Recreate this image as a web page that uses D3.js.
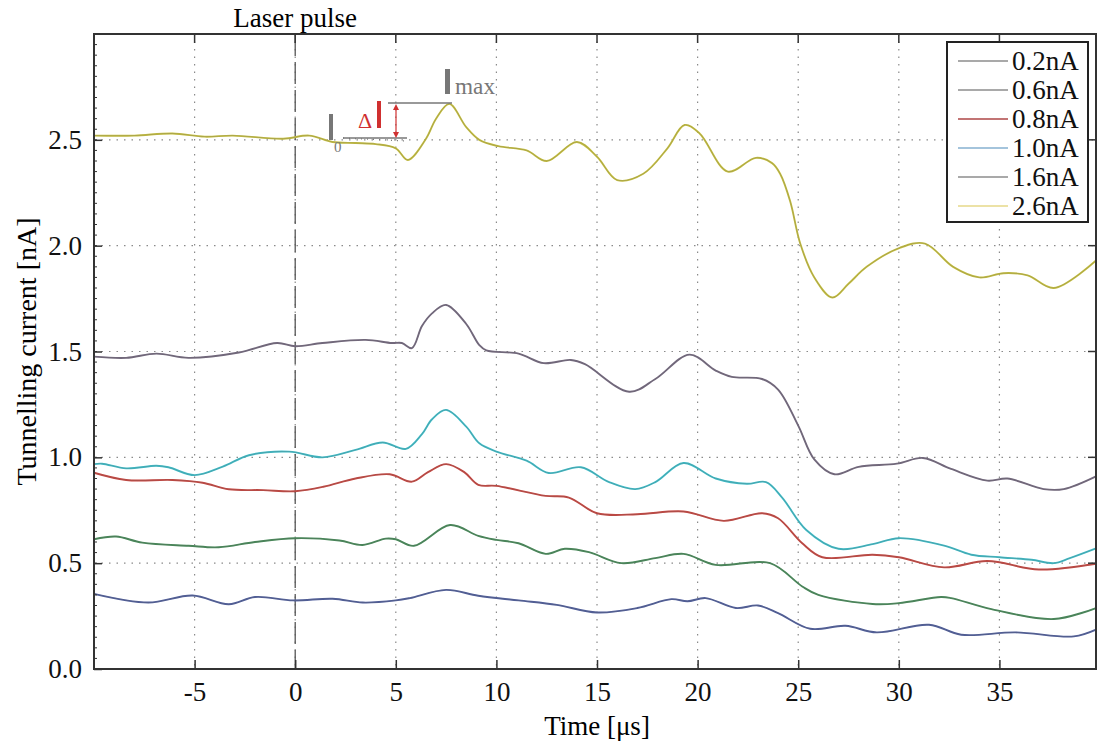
<!DOCTYPE html>
<html>
<head>
<meta charset="utf-8">
<script src="https://cdn.jsdelivr.net/npm/d3@7"></script>
<style>
  body { margin: 0; background: #fff; }
  text { font-family: "Liberation Serif", "Times New Roman", serif; }
</style>
</head>
<body>
<script>
// series: time [us] and current [nA]
var t02 = [-10,-7.3,-5.1,-3.3,-2,-0.1,1.86,3.35,5,5.7,7.5,9.1,11.1,13,15,17,18.7,19.5,20.4,21.9,23,24,25.6,27.35,28.9,31.5,33.1,35.8,38.7,39.8]
var v02 = [0.355,0.314,0.347,0.306,0.34,0.324,0.332,0.314,0.324,0.335,0.374,0.346,0.324,0.303,0.267,0.288,0.33,0.32,0.335,0.288,0.30,0.264,0.19,0.204,0.173,0.209,0.162,0.173,0.154,0.186]

var t06 = [-10,-8.9,-7.6,-5.3,-3.8,-2,0,2.2,3.35,4.5,5,5.9,7.7,9.1,10,11.1,12.45,13.4,14.6,16.2,17.9,19.3,20.9,23.6,25.2,26,28.7,30,32.1,32.6,34.6,37.7,39.8]
var v06 = [0.613,0.626,0.597,0.582,0.575,0.60,0.618,0.607,0.586,0.616,0.613,0.582,0.68,0.629,0.61,0.594,0.544,0.568,0.552,0.50,0.524,0.544,0.492,0.50,0.39,0.35,0.307,0.311,0.34,0.335,0.283,0.236,0.288]

var t08 = [-10,-8.4,-6.1,-4.6,-3.3,-1.6,0,1.4,3,4.7,5.8,6.6,7.5,8.4,9.1,10,12.45,13.6,15,17,19.3,21.3,23.2,24,25.2,26.2,28.7,30,32.25,34.4,36.96,39.8]
var v08 = [0.927,0.893,0.893,0.88,0.849,0.845,0.84,0.861,0.90,0.92,0.885,0.93,0.968,0.93,0.87,0.865,0.818,0.81,0.736,0.731,0.744,0.70,0.736,0.712,0.594,0.528,0.54,0.528,0.48,0.51,0.47,0.497]

var t10 = [-10,-9.6,-8.4,-6.9,-6.3,-5,-3.6,-2.3,-0.3,1.36,3,4.35,5.5,6.3,6.8,7.5,8.5,9.15,10,11.5,12.6,14.2,15.6,16.9,17.9,19.3,20.9,22.45,23.4,24.2,25.4,27,28.7,30,32.25,33.6,35,36.6,37.7,38.5,39.8]
var v10 = [0.968,0.97,0.948,0.96,0.953,0.916,0.956,1.01,1.027,1.0,1.035,1.07,1.04,1.11,1.18,1.224,1.145,1.066,1.027,0.984,0.926,0.953,0.883,0.85,0.883,0.973,0.90,0.875,0.883,0.81,0.657,0.568,0.59,0.618,0.583,0.54,0.528,0.516,0.50,0.524,0.57]

var t16 = [-10,-8.4,-6.9,-5.3,-2.8,-0.9,0,1.35,3.5,4.8,5.3,5.8,6.3,6.8,7.5,8.5,9.15,9.5,11.1,12.35,13.7,14.4,16.6,17.9,19.6,20.9,21.7,23.2,24,25,25.8,26.8,28,29.9,31.2,32.6,34.4,35.4,37.2,38.2,39.8]
var v16 = [1.476,1.47,1.49,1.47,1.495,1.54,1.525,1.54,1.555,1.54,1.54,1.516,1.62,1.68,1.72,1.63,1.53,1.505,1.49,1.445,1.46,1.44,1.31,1.37,1.485,1.41,1.38,1.37,1.32,1.15,0.99,0.92,0.955,0.97,0.997,0.945,0.89,0.90,0.85,0.85,0.91]

var t26 = [-10,-8,-6.1,-4.5,-3.1,-0.6,0.7,1.85,3,4,5,5.6,6.5,7,7.66,8.5,9.15,10.1,11.5,12.5,14,15,16,17.3,18.5,19.35,20.1,21.5,22.9,23.7,24.1,24.6,25.1,25.8,26.7,27.5,28.4,30.05,31.3,32.7,34,35.2,36.4,37.7,39.8]
var v26 = [2.52,2.52,2.53,2.515,2.52,2.505,2.52,2.49,2.485,2.48,2.46,2.405,2.505,2.60,2.67,2.56,2.50,2.47,2.45,2.40,2.49,2.42,2.31,2.34,2.46,2.57,2.53,2.35,2.415,2.39,2.34,2.21,2.01,1.85,1.755,1.82,1.90,1.99,2.01,1.90,1.85,1.87,1.86,1.80,1.93]

var seriesNames = ["0.2nA", "0.6nA", "0.8nA", "1.0nA", "1.6nA", "2.6nA"]
var xTicks = [-5, 0, 5, 10, 15, 20, 25, 30, 35]
var yTicks = [0.0, 0.5, 1.0, 1.5, 2.0, 2.5]

var series = [
  {name: seriesNames[0], t: t02, v: v02, color: "#4e5d9c", legend: "#a9a9a9"},
  {name: seriesNames[1], t: t06, v: v06, color: "#468a58", legend: "#a9a9a9"},
  {name: seriesNames[2], t: t08, v: v08, color: "#c8453f", legend: "#c27474"},
  {name: seriesNames[3], t: t10, v: v10, color: "#3dbdc9", legend: "#a4c4dc"},
  {name: seriesNames[4], t: t16, v: v16, color: "#74697f", legend: "#a9a9a9"},
  {name: seriesNames[5], t: t26, v: v26, color: "#c6bf3e", legend: "#ece2a6"}
]

var W = 1098, H = 742
// plot box (note: "top" is taken by window.top, so use other names)
var pL = 94, pR = 1096, pT = 34, pB = 669

var svg = d3.select("body").append("svg")
  .attr("width", W).attr("height", H)

var x = d3.scaleLinear().domain([-10, 39.8]).range([pL, pR])
var y = d3.scaleLinear().domain([0, 3.0]).range([pB, pT])

// dotted grid
var grid = svg.append("g")
grid.selectAll(".gx").data(xTicks).enter().append("line")
  .attr("x1", function(d) { return x(d) }).attr("x2", function(d) { return x(d) })
  .attr("y1", pT).attr("y2", pB)
  .attr("stroke", "#8a8a8a").attr("stroke-width", 1.2)
  .attr("stroke-dasharray", "1.5,6")
grid.selectAll(".gy").data(yTicks.slice(1)).enter().append("line")
  .attr("x1", pL).attr("x2", pR)
  .attr("y1", function(d) { return y(d) }).attr("y2", function(d) { return y(d) })
  .attr("stroke", "#8a8a8a").attr("stroke-width", 1.2)
  .attr("stroke-dasharray", "1.5,6")

// laser pulse marker
svg.append("line")
  .attr("x1", x(0)).attr("x2", x(0))
  .attr("y1", pT).attr("y2", pB)
  .attr("stroke", "#555").attr("stroke-width", 1.3)
  .attr("stroke-dasharray", "22,6")

svg.append("text")
  .attr("x", x(0)).attr("y", 27)
  .attr("text-anchor", "middle")
  .style("font-size", "27px")
  .text("Laser pulse")

// curves
var line = d3.line()
  .x(function(d) { return x(d[0]) })
  .y(function(d) { return y(d[1]) })
  .curve(d3.curveCatmullRom.alpha(0.5))

series.forEach(function(s) {
  var pts = s.t.map(function(t, i) { return [t, s.v[i]] })
  svg.append("path")
    .attr("d", line(pts))
    .attr("fill", "none")
    .attr("stroke", s.color)
    .attr("stroke-width", 1.9)
  svg.append("path")
    .attr("d", line(pts))
    .attr("fill", "none")
    .attr("stroke", "#666")
    .attr("stroke-opacity", 0.35)
    .attr("stroke-width", 0.8)
})

// axes, ticks inward
var xAxis = d3.axisBottom(x).tickValues(xTicks).tickSizeInner(-9).tickSizeOuter(0).tickPadding(13)
  .tickFormat(function(d) { return String(d) })
var gx = svg.append("g").attr("transform", "translate(0," + pB + ")").call(xAxis)
gx.selectAll("text").style("font-size", "27px").attr("fill", "#111")
  .style("font-family", "'Liberation Serif', serif")

var yAxis = d3.axisLeft(y).tickValues(yTicks).tickSizeInner(-8).tickSizeOuter(0).tickPadding(12)
  .tickFormat(d3.format(".1f"))
var gy = svg.append("g").attr("transform", "translate(" + pL + ",0)").call(yAxis)
gy.selectAll("text").style("font-size", "27px").attr("fill", "#111")
  .style("font-family", "'Liberation Serif', serif")

// minor ticks on the left axis
var minor = d3.range(0, 3.0, 0.05)
svg.append("g").selectAll("line").data(minor).enter().append("line")
  .attr("x1", pL).attr("x2", pL + 3)
  .attr("y1", function(d) { return y(d) }).attr("y2", function(d) { return y(d) })
  .attr("stroke", "#333").attr("stroke-width", 1)

// ticks on top and right side of the box
svg.append("g").selectAll("line").data(xTicks).enter().append("line")
  .attr("x1", function(d) { return x(d) }).attr("x2", function(d) { return x(d) })
  .attr("y1", pT).attr("y2", pT + 9)
  .attr("stroke", "#333").attr("stroke-width", 1.5)
svg.append("g").selectAll("line").data(yTicks).enter().append("line")
  .attr("x1", pR).attr("x2", pR - 8)
  .attr("y1", function(d) { return y(d) }).attr("y2", function(d) { return y(d) })
  .attr("stroke", "#333").attr("stroke-width", 1.5)

svg.selectAll(".domain").remove()
svg.selectAll(".tick line").attr("stroke", "#333").attr("stroke-width", 1.5)

svg.append("rect")
  .attr("x", pL).attr("y", pT)
  .attr("width", pR - pL).attr("height", pB - pT)
  .attr("fill", "none").attr("stroke", "#333").attr("stroke-width", 2)

// axis labels
svg.append("text")
  .attr("x", 597).attr("y", 735)
  .attr("text-anchor", "middle")
  .style("font-size", "27px")
  .text("Time [\u03bcs]")

svg.append("text")
  .attr("transform", "translate(36," + y(1.5) + ") rotate(-90)")
  .attr("text-anchor", "middle")
  .style("font-size", "28px")
  .text("Tunnelling current [nA]")

// I0, delta I, Imax annotation
var ann = svg.append("g").style("font-family", "'DejaVu Sans', Arial, sans-serif")
ann.append("rect").attr("x", 329).attr("y", 114).attr("width", 4).attr("height", 26).attr("fill", "#777")
ann.append("text").attr("x", 334).attr("y", 152).style("font-size", "15px").attr("fill", "#777").text("0")
ann.append("line").attr("x1", 343).attr("x2", 407).attr("y1", 138).attr("y2", 138)
  .attr("stroke", "#777").attr("stroke-width", 1.3)
ann.append("line").attr("x1", 343).attr("x2", 407).attr("y1", 138).attr("y2", 141)
  .attr("stroke", "#777").attr("stroke-width", 1.3).attr("stroke-dasharray", "1,5")
ann.append("text").attr("x", 358).attr("y", 128).style("font-size", "22px").attr("fill", "#d03030").text("\u0394")
ann.append("rect").attr("x", 377).attr("y", 101).attr("width", 4).attr("height", 27).attr("fill", "#d03030")
ann.append("line").attr("x1", 396).attr("x2", 396).attr("y1", 106).attr("y2", 136)
  .attr("stroke", "#d03030").attr("stroke-width", 1.2)
ann.append("path").attr("d", "M393,110 L396,104 L399,110 Z M393,132 L396,138 L399,132 Z").attr("fill", "#d03030")
ann.append("line").attr("x1", 388).attr("x2", 452).attr("y1", 103).attr("y2", 103)
  .attr("stroke", "#777").attr("stroke-width", 1.5)
ann.append("rect").attr("x", 445).attr("y", 69).attr("width", 5).attr("height", 25).attr("fill", "#777")
ann.append("text").attr("x", 455).attr("y", 94).style("font-size", "23px")
  .attr("textLength", 40).attr("lengthAdjust", "spacingAndGlyphs")
  .attr("fill", "#777").text("max")

// legend
var lg = svg.append("g")
lg.append("rect").attr("x", 947).attr("y", 42).attr("width", 141).attr("height", 180)
  .attr("fill", "#fff").attr("stroke", "#222").attr("stroke-width", 2)
var rows = lg.selectAll(".row").data(series).enter().append("g")
  .attr("transform", function(d, i) { return "translate(0," + (61 + i * 29) + ")" })
rows.append("line").attr("x1", 958).attr("x2", 1008).attr("y1", 0).attr("y2", 0)
  .attr("stroke", function(d) { return d.legend }).attr("stroke-width", 2)
rows.append("text").attr("x", 1012).attr("y", 9)
  .style("font-size", "27px").attr("fill", "#111")
  .text(function(d) { return d.name })
</script>
</body>
</html>
